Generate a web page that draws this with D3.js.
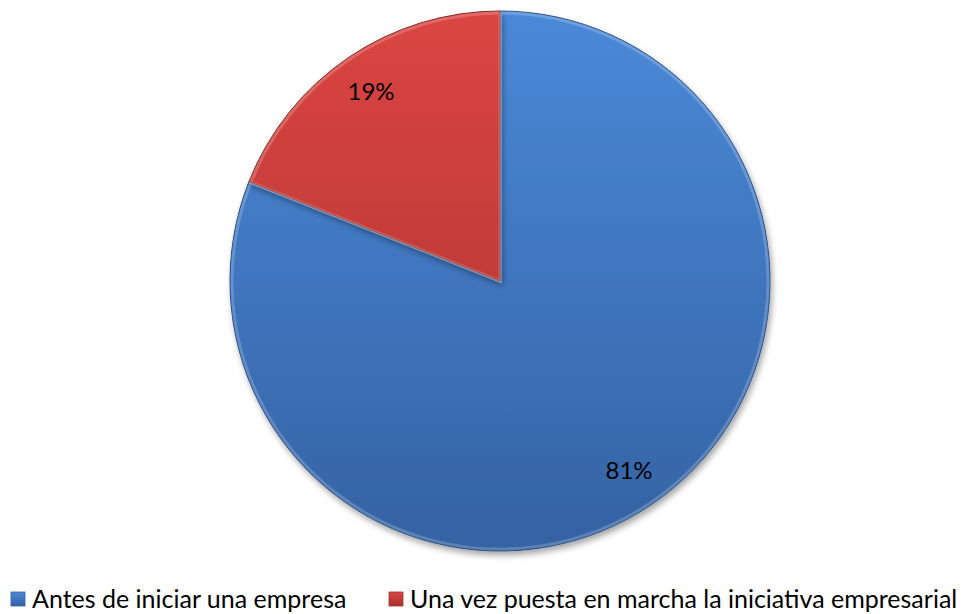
<!DOCTYPE html>
<html>
<head>
<meta charset="utf-8" />
<script src="https://d3js.org/d3.v7.min.js"></script>
<style>
	body { margin: 0; background: #fff; }
	text { font-family: Lato, "Open Sans", sans-serif; fill: #000; }
</style>
</head>
<body>
<div id="chart"></div>
<script>
	var categories = ["Antes de iniciar una empresa", "Una vez puesta en marcha la iniciativa empresarial"];
	var values = [81, 19];
	var labels = ["81%", "19%"];
	var colorsTop = ["#4a89d8", "#db4542"];
	var colorsBottom = ["#3462a3", "#a8332f"];

	var width = 962, height = 614;
	var cx = 500, cy = 281, radius = 270;

	var svg = d3.select("#chart").append("svg")
		.attr("width", width)
		.attr("height", height);

	var defs = svg.append("defs");

	// vertical gradients for each slice
	categories.forEach(function (c, i) {
		var g = defs.append("linearGradient")
			.attr("id", "grad" + i)
			.attr("gradientUnits", "userSpaceOnUse")
			.attr("x1", 0).attr("y1", -radius)
			.attr("x2", 0).attr("y2", radius);
		g.append("stop").attr("offset", "0%").attr("stop-color", colorsTop[i]);
		g.append("stop").attr("offset", "100%").attr("stop-color", colorsBottom[i]);

		var lg = defs.append("linearGradient")
			.attr("id", "leg" + i)
			.attr("x1", 0).attr("y1", 0).attr("x2", 0).attr("y2", 1);
		lg.append("stop").attr("offset", "0%").attr("stop-color", colorsTop[i]);
		lg.append("stop").attr("offset", "100%").attr("stop-color", colorsBottom[i]);
	});

	var shadow = defs.append("filter").attr("id", "shadow")
		.attr("x", "-10%").attr("y", "-10%").attr("width", "120%").attr("height", "120%");
	shadow.append("feGaussianBlur").attr("in", "SourceAlpha").attr("stdDeviation", 3);
	shadow.append("feOffset").attr("dx", 2).attr("dy", 4).attr("result", "ob");
	shadow.append("feComponentTransfer").append("feFuncA").attr("type", "linear").attr("slope", 0.35);
	var merge = shadow.append("feMerge");
	merge.append("feMergeNode");
	merge.append("feMergeNode").attr("in", "SourceGraphic");

	var pie = d3.pie().sort(null).value(function (d) { return d; });
	var arcs = pie(values);

	var arc = d3.arc().innerRadius(0).outerRadius(radius);
	var bevel = d3.arc().innerRadius(0).outerRadius(radius - 2);
	var labelArc = d3.arc().innerRadius(radius * 0.85).outerRadius(radius * 0.85);

	var g = svg.append("g").attr("transform", "translate(" + cx + "," + cy + ")");

	var slices = g.selectAll(".slice")
		.data(arcs)
		.enter().append("g")
		.attr("class", "slice")
		.attr("filter", "url(#shadow)");

	slices.append("path")
		.attr("d", arc)
		.attr("fill", function (d, i) { return "url(#grad" + i + ")"; })
		.attr("stroke", function (d, i) { return d3.color(colorsBottom[i]).darker(0.6); })
		.attr("stroke-width", 1);

	// soft bevel highlight along edges
	slices.append("path")
		.attr("d", bevel)
		.attr("fill", "none")
		.attr("stroke", "#ffffff")
		.attr("stroke-opacity", 0.2)
		.attr("stroke-width", 3);

	g.selectAll(".lbl")
		.data(arcs)
		.enter().append("text")
		.attr("class", "lbl")
		.attr("transform", function (d) {
			var c = labelArc.centroid(d);
			return "translate(" + c[0] + "," + c[1] + ")";
		})
		.attr("text-anchor", "middle")
		.attr("dy", "0.35em")
		.style("font-size", "24px")
		.text(function (d, i) { return labels[i]; });

	// legend
	var legendX = [11, 389];
	var legend = svg.selectAll(".legend")
		.data(categories)
		.enter().append("g")
		.attr("class", "legend")
		.attr("transform", function (d, i) { return "translate(" + legendX[i] + ",592)"; });

	legend.append("rect")
		.attr("width", 14)
		.attr("height", 14)
		.attr("fill", function (d, i) { return "url(#leg" + i + ")"; })
		.attr("stroke", function (d, i) { return colorsBottom[i]; })
		.attr("stroke-width", 0.8);

	legend.append("text")
		.attr("x", 21)
		.attr("y", 16)
		.style("font-size", "25px")
		.text(function (d) { return d; });
</script>
</body>
</html>
